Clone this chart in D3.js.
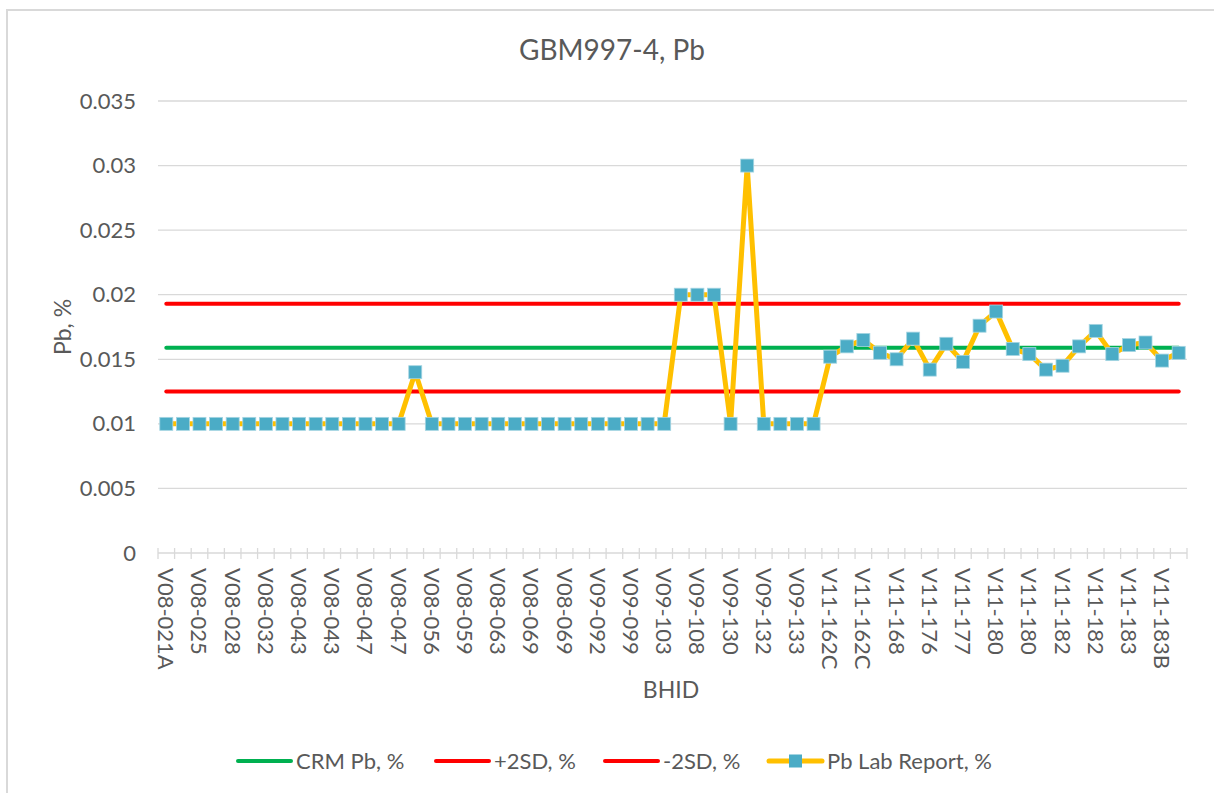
<!DOCTYPE html>
<html>
<head>
<meta charset="utf-8">
<script src="https://cdn.jsdelivr.net/npm/d3@7"></script>
<style>
  body { margin: 0; background: #fff; }
  text { font-family: Lato, "Open Sans", sans-serif; fill: #595959; }
</style>
</head>
<body>
<div id="chart"></div>
<script>
// sample ids (every other one is printed on the axis)
const bhid = [
  "V08-021A","V08-023","V08-025","V08-026","V08-028","V08-030","V08-032","V08-040",
  "V08-043","V08-043","V08-043","V08-045","V08-047","V08-047","V08-047","V08-052",
  "V08-056","V08-058","V08-059","V08-061","V08-063","V08-066","V08-069","V08-069",
  "V08-069","V09-090","V09-092","V09-095","V09-099","V09-101","V09-103","V09-105",
  "V09-108","V09-120","V09-130","V09-131","V09-132","V09-132","V09-133","V11-160",
  "V11-162C","V11-162C","V11-162C","V11-165","V11-168","V11-170","V11-176","V11-176",
  "V11-177","V11-178","V11-180","V11-180","V11-180","V11-181","V11-182","V11-182",
  "V11-182","V11-183","V11-183","V11-183A","V11-183B","V11-183B"
]

const labReport = [
  0.01,0.01,0.01,0.01,0.01,0.01,0.01,0.01,0.01,0.01,0.01,0.01,0.01,0.01,0.01,
  0.014,
  0.01,0.01,0.01,0.01,0.01,0.01,0.01,0.01,0.01,0.01,0.01,0.01,0.01,0.01,0.01,
  0.02,0.02,0.02,0.01,0.03,0.01,0.01,0.01,0.01,
  0.0152,0.016,0.0165,0.0155,0.015,0.0166,0.0142,0.0162,0.0148,0.0176,0.0187,
  0.0158,0.0154,0.0142,0.0145,0.016,0.0172,0.0154,0.0161,0.0163,0.0149,0.0155
]

const crm = 0.0159
const plus2sd = 0.0193
const minus2sd = 0.0125

const yTicks = [0, 0.005, 0.01, 0.015, 0.02, 0.025, 0.03, 0.035]

const legendItems = [
  {name: "CRM Pb, %", color: "#00B050", marker: false},
  {name: "+2SD, %", color: "#FF0000", marker: false},
  {name: "-2SD, %", color: "#FF0000", marker: false},
  {name: "Pb Lab Report, %", color: "#FFC000", marker: true}
]

const W = 1214, H = 793
const margin = {top: 101, right: 27, bottom: 240, left: 158}
const width = W - margin.left - margin.right
const height = H - margin.top - margin.bottom

const svg = d3.select("#chart").append("svg")
    .attr("width", W)
    .attr("height", H)

// chart frame
svg.append("rect")
    .attr("x", 7).attr("y", 10)
    .attr("width", W + 20).attr("height", H + 20)
    .attr("fill", "none")
    .attr("stroke", "#D9D9D9")
    .attr("stroke-width", 2)

const g = svg.append("g")
    .attr("transform", `translate(${margin.left},${margin.top})`)

const xScale = d3.scaleBand()
    .domain(d3.range(bhid.length))
    .range([0, width])

const yScale = d3.scaleLinear()
    .domain([0, 0.035])
    .range([height, 0])

const cx = i => xScale(i) + xScale.bandwidth() / 2

// gridlines
g.append("g")
    .selectAll("line")
    .data(yTicks.filter(d => d > 0))
    .join("line")
      .attr("x1", 0).attr("x2", width)
      .attr("y1", d => yScale(d)).attr("y2", d => yScale(d))
      .attr("stroke", "#D9D9D9")
      .attr("stroke-width", 1.3)

// y axis labels
const yAxis = d3.axisLeft(yScale)
    .tickValues(yTicks)
    .tickFormat(d => d === 0 ? "0" : String(+d.toFixed(3)))
    .tickSize(0)
    .tickPadding(22)

g.append("g")
    .call(yAxis)
    .call(a => a.select(".domain").remove())
    .selectAll("text")
      .style("font-size", "22px")
      .attr("font-family", null)
      .attr("fill", "#595959")

// x axis line + ticks at category boundaries
const xg = g.append("g").attr("transform", `translate(0,${height})`)
xg.append("line")
    .attr("x1", 0).attr("x2", width)
    .attr("stroke", "#D9D9D9").attr("stroke-width", 1.3)
xg.selectAll(".tk")
    .data(d3.range(bhid.length + 1))
    .join("line")
      .attr("class", "tk")
      .attr("x1", i => i * xScale.step()).attr("x2", i => i * xScale.step())
      .attr("y1", -5).attr("y2", 6)
      .attr("stroke", "#D9D9D9").attr("stroke-width", 1.3)

xg.selectAll(".xl")
    .data(bhid.map((d, i) => ({d, i})).filter(o => o.i % 2 === 0))
    .join("text")
      .attr("class", "xl")
      .attr("transform", o => `translate(${cx(o.i) - 8},${15}) rotate(90)`)
      .attr("text-anchor", "start")
      .style("font-size", "22px")
      .text(o => o.d)

// reference lines
const refs = [
  {v: minus2sd, c: "#FF0000"},
  {v: plus2sd, c: "#FF0000"},
  {v: crm, c: "#00B050"}
]
g.selectAll(".ref")
    .data(refs)
    .join("line")
      .attr("class", "ref")
      .attr("x1", cx(0)).attr("x2", cx(bhid.length - 1))
      .attr("y1", d => yScale(d.v)).attr("y2", d => yScale(d.v))
      .attr("stroke", d => d.c)
      .attr("stroke-width", 4)
      .attr("stroke-linecap", "round")

// lab report series
const line = d3.line()
    .x((d, i) => cx(i))
    .y(d => yScale(d))

g.append("path")
    .datum(labReport)
    .attr("d", line)
    .attr("fill", "none")
    .attr("stroke", "#FFC000")
    .attr("stroke-width", 5)
    .attr("stroke-linejoin", "round")

const ms = 13
g.selectAll(".pt")
    .data(labReport)
    .join("rect")
      .attr("class", "pt")
      .attr("x", (d, i) => cx(i) - ms / 2)
      .attr("y", d => yScale(d) - ms / 2)
      .attr("width", ms).attr("height", ms)
      .attr("fill", "#4BACC6")
      .attr("stroke", "#A5D5E2")
      .attr("stroke-width", 0.8)

// titles
svg.append("text")
    .attr("x", 612).attr("y", 60)
    .attr("text-anchor", "middle")
    .style("font-size", "28px")
    .text("GBM997-4, Pb")

svg.append("text")
    .attr("transform", `translate(71,${327}) rotate(-90)`)
    .attr("text-anchor", "middle")
    .style("font-size", "23px")
    .text("Pb, %")

svg.append("text")
    .attr("x", 671).attr("y", 698)
    .attr("text-anchor", "middle")
    .style("font-size", "23px")
    .text("BHID")

// legend
const legendX = [238, 436, 605, 769]
const lg = svg.append("g").attr("transform", "translate(0,761)")
legendItems.forEach((it, i) => {
  const x0 = legendX[i]
  lg.append("line")
      .attr("x1", x0).attr("x2", x0 + 53)
      .attr("stroke", it.color)
      .attr("stroke-width", it.marker ? 5 : 4)
      .attr("stroke-linecap", "round")
  if (it.marker) {
    lg.append("rect")
        .attr("x", x0 + 26.5 - 6.5).attr("y", -6.5)
        .attr("width", 13).attr("height", 13)
        .attr("fill", "#4BACC6")
  }
  lg.append("text")
      .attr("x", x0 + 58).attr("y", 8)
      .style("font-size", "22px")
      .text(it.name)
})
</script>
</body>
</html>
